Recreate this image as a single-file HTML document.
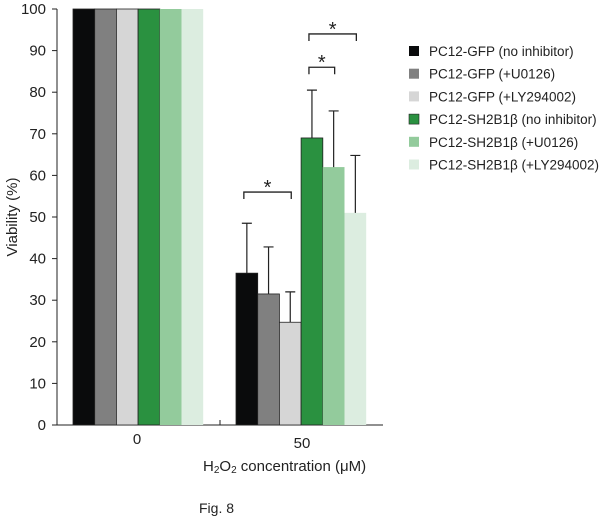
<!DOCTYPE html>
<html><head><meta charset="utf-8"><style>
body{margin:0;background:#fff;}
svg text{font-family:"Liberation Sans",Arial,sans-serif;fill:#222;}
</style></head><body>
<svg width="600" height="518">
<g id="axes"></g><g id="bars"></g><g id="sig"></g><g id="legend"></g>
<text x="199" y="513" font-size="14">Fig. 8</text>
</svg>
<script>
const groups=["0","50"];
const series=["PC12-GFP (no inhibitor)","PC12-GFP (+U0126)","PC12-GFP (+LY294002)","PC12-SH2B1β (no inhibitor)","PC12-SH2B1β (+U0126)","PC12-SH2B1β (+LY294002)"];
const colors=["#0a0b0c","#808080","#d6d6d6","#2a9140","#93cb9c","#dcede0"];
const values0=[100,100,100,100,100,100];
const values50=[36.5,31.5,24.7,69,62,51];
const errors50=[12,11.3,7.3,11.5,13.5,13.8];
const yTicks=[0,10,20,30,40,50,60,70,80,90,100];
const sigPairs=[[0,2,56],[3,4,86],[3,5,94]];
const NS="http://www.w3.org/2000/svg";
function mk(t,a,p){const e=document.createElementNS(NS,t);for(const k in a)e.setAttribute(k,a[k]);p.appendChild(e);return e;}
const y=v=>425-v*4.16;
const groupStart=[73,236], bw=21.7;
const x=(g,i)=>groupStart[g]+i*bw;
const axes=document.getElementById('axes'),bars=document.getElementById('bars'),sig=document.getElementById('sig'),leg=document.getElementById('legend');
let l=mk('line',{x1:57,y1:y(100),x2:57,y2:425,stroke:'#222','stroke-width':1},axes);

l=mk('line',{x1:52,y1:425,x2:383,y2:425,stroke:'#222','stroke-width':1},axes);

mk('line',{x1:220,y1:420,x2:220,y2:425,stroke:'#222'},axes);
yTicks.forEach(v=>{
 mk('line',{x1:52,y1:y(v),x2:57,y2:y(v),stroke:'#222'},axes);
 const t=mk('text',{x:46,y:y(v)+5,'font-size':15,'text-anchor':'end'},axes);t.textContent=v;
 
});
let t=mk('text',{transform:'translate(17,217) rotate(-90)','font-size':15,'text-anchor':'middle'},axes);t.textContent='Viability (%)';

[137,302].forEach((cx,g)=>{const tt=mk('text',{x:cx,y:g?448:444,'font-size':15,'text-anchor':'middle'},axes);tt.textContent=groups[g];
 });
t=mk('text',{x:203,y:471,'font-size':15},axes);
t.innerHTML='H<tspan font-size="10" dy="2">2</tspan><tspan dy="-2">O</tspan><tspan font-size="10" dy="2">2</tspan><tspan dy="-2"> concentration (μM)</tspan>';

[values0,values50].forEach((vals,g)=>{
 vals.forEach((v,i)=>{
  const r=mk('rect',{x:x(g,i),y:y(v),width:bw,height:425-y(v),fill:colors[i],stroke:i<4?'#222':'none','stroke-width':0.8},bars);
  
  if(g===1){const cx=x(g,i)+bw/2,top=y(v+errors50[i]);
   const e=mk('path',{d:`M${cx},${y(v)}V${top}M${cx-5},${top}H${cx+5}`,stroke:'#222','stroke-width':1.2,fill:'none'},bars);
   }
 });
});
sigPairs.forEach(([a,b,v])=>{
 const x1=x(1,a)+bw/2-3,x2=x(1,b)+bw/2+1,yy=y(v);
 const p=mk('path',{d:`M${x1},${yy+7}V${yy}H${x2}V${yy+7}`,stroke:'#222','stroke-width':1.3,fill:'none'},sig);
 
 const s=mk('text',{x:(x1+x2)/2,y:yy+2,'font-size':20,'text-anchor':'middle'},sig);s.textContent='*';
 
});
series.forEach((n,i)=>{
 const cy=51+i*22.7;
 const r=mk('rect',{x:409,y:cy-5,width:10,height:10,fill:colors[i],stroke:i===3?'#222':'none','stroke-width':0.6},leg);
 
 const tt=mk('text',{x:429,y:cy+5,'font-size':13.5},leg);tt.textContent=n;
 
});
</script>
</body></html>
